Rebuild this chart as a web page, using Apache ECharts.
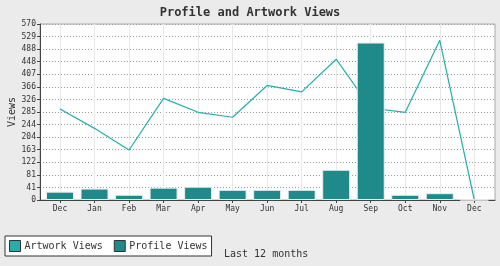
<!DOCTYPE html>
<html><head><meta charset="utf-8">
<script src="https://cdn.jsdelivr.net/npm/echarts@6/dist/echarts.min.js"></script>
<style>html,body{margin:0;padding:0;background:#ebebeb}#c{width:500px;height:266px}</style>
</head><body><div id="c"></div>
<script>
const months = ['Dec','Jan','Feb','Mar','Apr','May','Jun','Jul','Aug','Sep','Oct','Nov','Dec'];
const artworkViews = [295, 232, 162, 329, 284, 268, 371, 350, 456, 298, 284, 517, 0];
const profileViews = [27, 37, 17, 40, 43, 33, 33, 33, 98, 510, 17, 22, 0];
const yTickLabels = ['0','41','81','122','163','204','244','285','326','366','407','448','488','529','570'];
const yMax = 570;
const yStep = yMax / 14;
const FONT = 'DejaVu Sans Mono';

const chart = echarts.init(document.getElementById('c'), null, {renderer:'canvas'});
chart.setOption({
  animation: false,
  backgroundColor: '#ebebeb',
  textStyle: {fontFamily: FONT},
  title: {
    text: 'Profile and Artwork Views', left: 'center', top: 2,
    textStyle: {fontFamily: FONT, fontSize: 12, fontWeight: 'bold', color: '#333'}
  },
  legend: {
    left: 5, top: 236, orient: 'horizontal',
    backgroundColor: '#fff', borderColor: '#333', borderWidth: 1, borderRadius: 0,
    padding: [4, 4, 4, 4], itemWidth: 11, itemHeight: 11, itemGap: 11,
    icon: 'rect',
    itemStyle: {borderColor: '#333', borderWidth: 1},
    textStyle: {fontFamily: FONT, fontSize: 10, color: '#333', padding: [0,0,0,-1]},
    data: ['Artwork Views', 'Profile Views']
  },
  graphic: [{
    type: 'text', left: 224, top: 249,
    style: {text: 'Last 12 months', font: '10px "DejaVu Sans Mono"', fill: '#333'}
  }],
  grid: [
    {left: 40, right: 5, top: 24, bottom: 66, containLabel: false, outerBoundsMode: 'none',
     show: true, backgroundColor: '#fff', borderColor: '#aaa', borderWidth: 1},
    {left: 60, right: 25.7, top: 24, bottom: 66, containLabel: false, outerBoundsMode: 'none'}
  ],
  xAxis: [
    {gridIndex: 0, type: 'category', data: [''], axisLine: {show: true, lineStyle: {color: '#444'}},
     axisTick: {show: false}, axisLabel: {show: false}, splitLine: {show: false}},
    {gridIndex: 1, type: 'category', data: months, boundaryGap: false,
     axisLine: {show: false}, axisTick: {show: true, length: 3, lineStyle: {color: '#444'}},
     axisLabel: {fontFamily: FONT, fontSize: 8, color: '#333', margin: 5, interval: 0},
     splitLine: {show: true, lineStyle: {color: '#e8e8e8', width: 1}}}
  ],
  yAxis: [
    {gridIndex: 0, type: 'value', min: 0, max: yMax, interval: yStep,
     name: 'Views', nameLocation: 'middle', nameGap: 23, nameRotate: 90, nameMoveOverlap: false,
     nameTextStyle: {fontFamily: FONT, fontSize: 10, color: '#333'},
     axisLine: {show: true, lineStyle: {color: '#444'}},
     axisTick: {show: true, length: 3, lineStyle: {color: '#444'}},
     axisLabel: {fontFamily: FONT, fontSize: 8, color: '#333', margin: 4,
       formatter: v => yTickLabels[Math.round(v / yStep)]},
     splitLine: {show: true, lineStyle: {color: '#999', type: [1, 2], width: 1}}},
    {gridIndex: 1, type: 'value', min: 0, max: yMax, show: false, splitLine: {show: false}}
  ],
  series: [
    {name: 'Artwork Views', type: 'line', xAxisIndex: 1, yAxisIndex: 1, data: artworkViews,
     showSymbol: false, symbol: 'none', lineStyle: {color: '#25aeac', width: 1.2}, itemStyle: {color: '#25aeac'}, z: 2},
    {name: 'Profile Views', type: 'bar', xAxisIndex: 1, yAxisIndex: 1, data: profileViews,
     barWidth: 28, clip: false,
     itemStyle: {color: '#1e8b8a', borderColor: '#eeeeee', borderWidth: 1}, z: 3}
  ]
});
</script></body></html>
